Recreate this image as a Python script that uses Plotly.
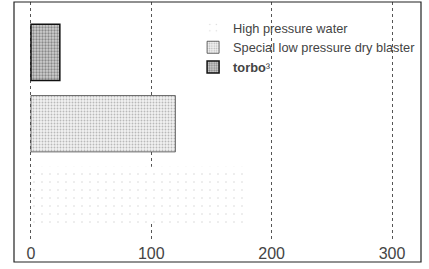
import plotly.graph_objects as go

categories = ["High pressure water", "Special low pressure dry blaster", "torbo³"]
values = [180, 120, 24]
tick_vals = [0, 100, 200, 300]
tick_text = ["0", "100", "200", "300"]

styles = [
    dict(fg="#aaaaaa", bg="white", size=8, sol=0.03, line="rgba(0,0,0,0)", lw=0),
    dict(fg="#808080", bg="#f2f2f2", size=3, sol=0.3, line="#444444", lw=0.8),
    dict(fg="#444444", bg="#cfcfcf", size=3, sol=0.45, line="#111111", lw=1.5),
]
legend_names = ["High pressure water", "Special low pressure dry blaster", "<b>torbo</b>³"]

fig = go.Figure()
for cat, val, st, nm in zip(categories, values, styles, legend_names):
    fig.add_trace(go.Bar(
        x=[val], y=[cat], orientation="h", name=nm, width=0.79,
        marker=dict(color=st["bg"], line=dict(color=st["line"], width=st["lw"]),
                    pattern=dict(shape=".", fgcolor=st["fg"], bgcolor=st["bg"],
                                 size=st["size"], solidity=st["sol"])),
    ))

# outer frame (encloses the tick labels, as in the scanned original)
fig.add_shape(type="rect", xref="paper", yref="paper", x0=0, x1=1, y0=-0.0833, y1=1,
              line=dict(color="#222222", width=1.2), fillcolor="rgba(0,0,0,0)", layer="above")

fig.update_layout(
    width=429, height=269,
    margin=dict(l=14, r=8, t=2, b=27, autoexpand=False),
    paper_bgcolor="white", plot_bgcolor="white",
    font=dict(family="Liberation Sans, Arial, sans-serif", color="#444444"),
    showlegend=True,
    legend=dict(x=0.44, y=0.955, xanchor="left", yanchor="top", bgcolor="rgba(0,0,0,0)",
                font=dict(size=12.8, color="#444444"), tracegroupgap=0),
)
fig.update_xaxes(range=[-14.1, 324.1], tickvals=tick_vals, ticktext=tick_text,
                 tickfont=dict(size=16, color="#444444"), automargin=False, ticklabelstandoff=0,
                 showgrid=True, gridcolor="#555555", griddash="dot", gridwidth=1,
                 zeroline=False, showline=False, ticks="")
fig.update_yaxes(type="category", categoryorder="array", categoryarray=categories,
                 range=[-0.659, 2.707], showticklabels=False, showgrid=False, automargin=False,
                 showline=False, ticks="")

fig.write_html("out.html", config={"displayModeBar": False},
               post_script="document.body.style.margin='0';document.body.style.overflow='hidden';")
